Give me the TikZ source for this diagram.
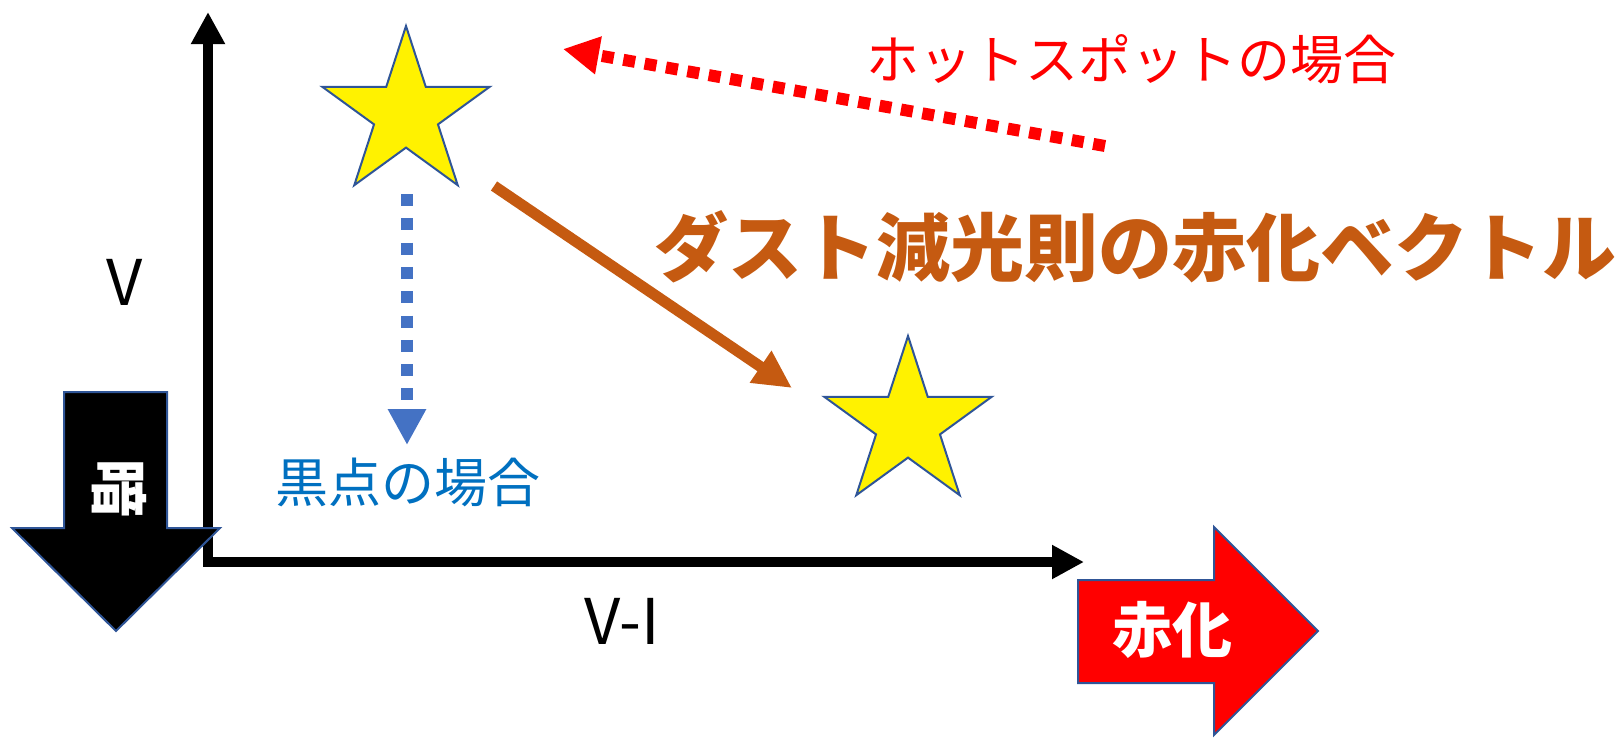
\documentclass[tikz,border=0pt]{standalone}
\usepackage{fontspec}
\setmainfont{Noto Sans CJK JP}
\usetikzlibrary{arrows.meta,shapes.geometric}
\definecolor{orng}{HTML}{C55A11}
\definecolor{bluedot}{HTML}{4472C4}
\definecolor{bluetxt}{HTML}{0070C0}
\definecolor{outl}{HTML}{2F5597}
\begin{document}
\begin{tikzpicture}[x=1pt,y=-1pt,
  starnode/.style={star,star points=5,star point ratio=2.618,minimum size=176pt,inner sep=0pt,fill=yellow,draw=outl,line width=2pt},
  blockarrow/.style={draw=outl,line width=2pt,line join=miter},
  axisline/.style={line width=10pt,line join=miter,{Triangle[length=32pt,width=32pt]}-{Triangle[length=32pt,width=32pt]}},
  lbl/.style={inner sep=0pt,anchor=center},
  fs/.style={font=\fontsize{#1}{#1}\selectfont},
  fsb/.style={font=\bfseries\fontsize{#1}{#1}\selectfont}]
\useasboundingbox (0,0) rectangle (1622,740);
% axes
\coordinate (ytip) at (208,12);
\coordinate (orig) at (208,562);
\coordinate (xtip) at (1084,562);
\draw[axisline] (ytip) -- (orig) -- (xtip);
% black block arrow (down)
\filldraw[fill=black,blockarrow] (64,392) -- (167,392) -- (167,528) -- (220,528) -- (116,631) -- (12,528) -- (64,528) -- cycle;
\node[lbl,rotate=-90,text=white,fsb=58] (dark) at (119,488) {暗};
% red block arrow (right)
\filldraw[fill=red,blockarrow] (1078,580) -- (1214,580) -- (1214,527) -- (1318,631) -- (1214,735) -- (1214,683) -- (1078,683) -- cycle;
\node[lbl,text=white,fsb=60] (red) at (1172,630) {赤化};
% stars
\node[starnode] (s1) at (406,114) {};
\node[starnode] (s2) at (908,424) {};
% labels
\node[lbl,fs=63] (vlab) at (125,282) {V};
\node[lbl,fs=63] (vilab) at (622,621) {V-I};
\node[lbl,text=bluetxt,fs=53] (kuro) at (408,482) {黒点の場合};
\node[lbl,text=red,fs=53] (hot) at (1131,59) {ホットスポットの場合};
\node[lbl,text=orng,fsb=74] (title) at (1135,247) {ダスト減光則の赤化ベクトル};
% blue dotted arrow
\coordinate (b0) at (407,194);
\coordinate (b1) at (407,445);
\draw[bluedot,line width=12pt,dash pattern=on 12pt off 12.3pt,-{Triangle[length=36pt,width=36pt]}] (b0) -- (b1);
% red dotted arrow
\coordinate (r0) at (1105,146);
\coordinate (r1) at (563,49);
\draw[red,line width=12pt,dash pattern=on 12pt off 9.7pt,-{Triangle[length=36pt,width=36pt]}] (r0) -- (r1);
% orange reddening vector
\coordinate (o0) at (494,186);
\coordinate (o1) at (792,388);
\draw[orng,line width=11pt,-{Triangle[length=38pt,width=36pt]}] (o0) -- (o1);
\end{tikzpicture}
\end{document}
